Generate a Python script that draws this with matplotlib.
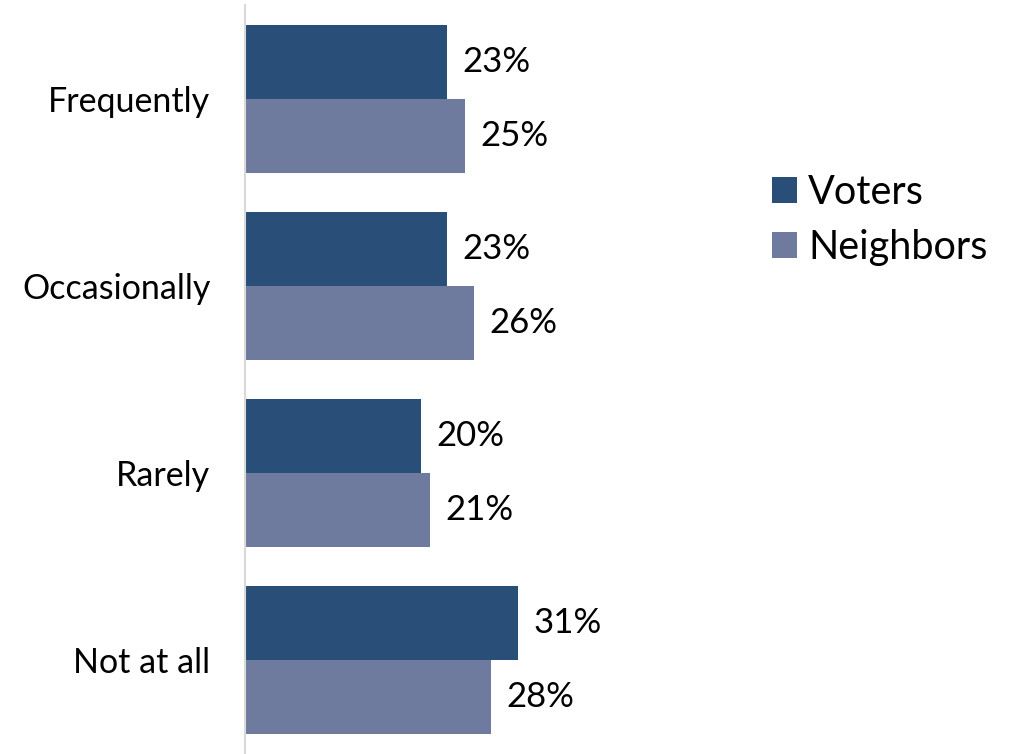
import matplotlib
matplotlib.use("Agg")
import matplotlib.pyplot as plt
import numpy as np
from matplotlib.patches import Patch

categories = ["Frequently", "Occasionally", "Rarely", "Not at all"]
voters = [23, 23, 20, 31]
neighbors = [25, 26, 21, 28]
series_names = ["Voters", "Neighbors"]
colors = ["#294E77", "#6E7B9E"]

plt.rcParams["font.family"] = ["Lato", "DejaVu Sans"]

W, H = 1013, 754
fig = plt.figure(figsize=(W / 100, H / 100), dpi=100)
ax = fig.add_axes([245 / W, 0 / H, 440 / W, 749 / H])

y = np.arange(len(categories))
h = 0.395
ax.barh(y - h / 2, voters, height=h, color=colors[0], edgecolor="none")
ax.barh(y + h / 2, neighbors, height=h, color=colors[1], edgecolor="none")

for yi, v, n in zip(y, voters, neighbors):
    ax.text(v + 1.75, yi - h / 2, f"{v}%", va="center", ha="left", fontsize=25, color="black")
    ax.text(n + 1.75, yi + h / 2, f"{n}%", va="center", ha="left", fontsize=25, color="black")

ax.set_xlim(0, 50)
ax.set_ylim(3.5, -0.5)
ax.set_yticks(y)
ax.set_yticklabels(categories, fontsize=24.5)
ax.tick_params(axis="y", length=0, pad=25)
ax.set_xticks([])
for s in ["top", "right", "bottom"]:
    ax.spines[s].set_visible(False)
ax.spines["left"].set_color("#D9D9D9")
ax.spines["left"].set_linewidth(1.5)

handles = [Patch(facecolor=c, edgecolor="none") for c in colors]
fig.legend(handles, series_names, loc="center left", bbox_to_anchor=(772 / W, 1 - 220 / H),
           frameon=False, fontsize=28.5, handlelength=0.63, handleheight=0.63,
           handletextpad=0.28, labelspacing=0.45, borderaxespad=0, borderpad=0)

fig.savefig("out.png", dpi=100)
